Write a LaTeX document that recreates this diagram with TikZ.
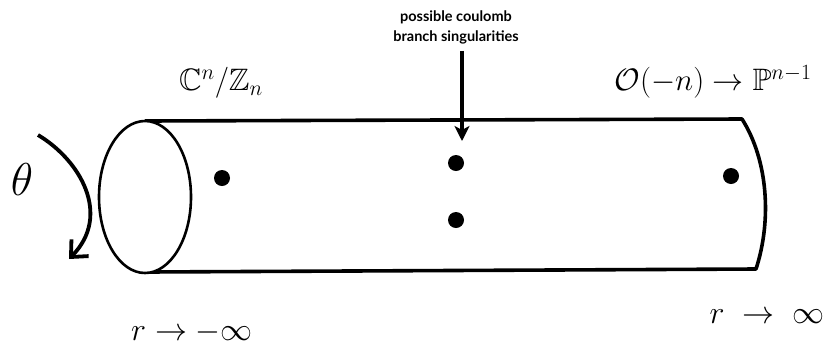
\RequirePackage{fix-cm}
\documentclass[tikz,border=0pt]{standalone}
\usepackage{amssymb}
\usepackage{fontspec}
\newfontfamily\labfont{Lato}
\usetikzlibrary{arrows.meta,shapes.geometric}
\begin{document}
\begin{tikzpicture}[x=1pt,y=-1pt,
  outline/.style={line width=3.6pt,line join=round},
  rim/.style={line width=2.6pt},
  dotnode/.style={circle,fill=black,inner sep=0pt,minimum size=16pt},
  mathlab/.style={inner sep=0pt,font=\fontsize{31}{36}\selectfont},
  smalllab/.style={inner sep=0pt,align=center,font=\labfont\bfseries\fontsize{14.5}{20}\selectfont},
  pointer/.style={line width=3.4pt,-{Stealth[length=15pt,width=15pt,inset=4pt]}},
  turn/.style={line width=3.8pt,-{Straight Barb[length=13pt,width=24pt,line width=3.8pt]}}]
\useasboundingbox (0,0) rectangle (830,349);
% cylinder body
\coordinate (tl) at (145,121);
\coordinate (bl) at (148,272);
\coordinate (tr) at (742,119);
\coordinate (br) at (756,269);
\draw[outline] (tl) -- (tr) .. controls (768,160) and (772,220) .. (br) -- (bl);
\node[draw,ellipse,rim,fill=white,minimum width=92pt,minimum height=152pt,inner sep=0pt] (end) at (145,197) {};
% dots
\node[dotnode] (d1) at (222,178) {};
\node[dotnode] (d2) at (456,163) {};
\node[dotnode] (d3) at (456,220) {};
\node[dotnode] (d4) at (731,176) {};
% labels
\node[smalllab] (sing) at (456,27) {possible coulomb\\branch singularities};
\coordinate (tip) at (462,141);
\draw[pointer] (sing.south -| tip) ++(0,7) -- (tip);
\node[mathlab] (cz) at (221,83) {$\mathbb{C}^n/\mathbb{Z}_n$};
\node[mathlab] (op) at (713,82) {$\mathcal{O}(-n)\rightarrow\mathbb{P}^{n-1}$};
\node[inner sep=0pt,font=\fontsize{46}{50}\selectfont] (th) at (22,180) {$\theta$};
\node[mathlab,font=\fontsize{32}{36}\selectfont] (rm) at (192,332) {$r\rightarrow-\infty$};
\node[mathlab,font=\fontsize{32}{36}\selectfont] (rp) at (767,317) {$r\;\rightarrow\;\infty$};
% rotation arrow
\coordinate (a0) at (38,135);
\coordinate (a1) at (69,259);
\draw[turn] (a0) .. controls (80,160) and (112,215) .. (a1);
\end{tikzpicture}
\end{document}
